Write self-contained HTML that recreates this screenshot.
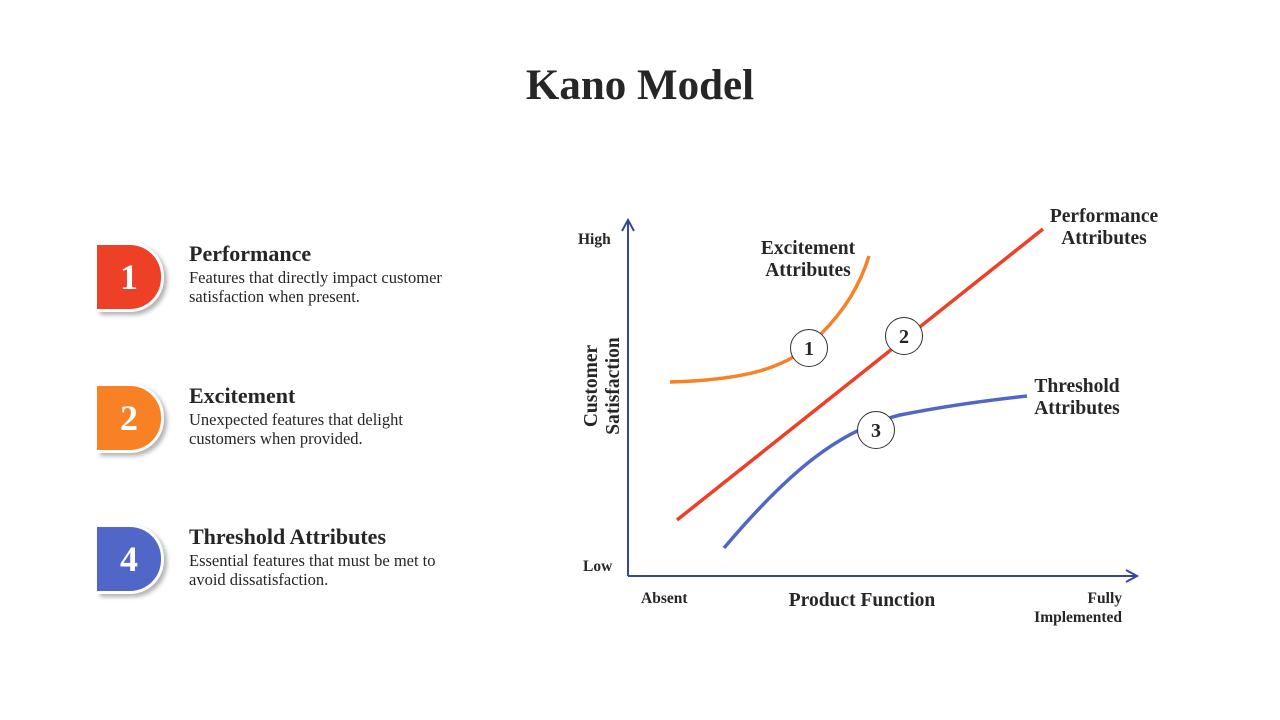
<!DOCTYPE html>
<html><head><meta charset="utf-8"><style>
body{margin:0;width:1280px;height:720px;background:#fff;position:relative;font-family:"Liberation Serif","DejaVu Serif",serif;color:#262626;overflow:hidden}
h1{position:absolute;top:61px;left:0;width:1280px;text-align:center;margin:0;font-size:43px;font-weight:bold}
.b{position:absolute;left:97px;width:64px;height:64px;border-radius:0 34px 34px 0;border:3px solid #fff;border-left:none;box-shadow:3px 3px 4px rgba(0,0,0,.3);color:#fff;font-size:36px;font-weight:bold;text-align:center;line-height:64px;box-sizing:content-box}
.t{position:absolute;left:189px;font-size:22px;font-weight:bold}
.d{position:absolute;left:189px;font-size:16.5px;line-height:19px;width:258px}
svg{position:absolute;left:0;top:0}
svg text{font-family:"Liberation Serif","DejaVu Serif",serif;fill:#262626;font-weight:bold}
</style></head><body>
<h1>Kano Model</h1>
<div class="b" style="top:242px;background:#ee4027">1</div>
<div class="t" style="top:241px">Performance</div>
<div class="d" style="top:268px">Features that directly impact customer satisfaction when present.</div>
<div class="b" style="top:383px;background:#f98125">2</div>
<div class="t" style="top:383px">Excitement</div>
<div class="d" style="top:410px">Unexpected features that delight customers when provided.</div>
<div class="b" style="top:524px;background:#5067c8">4</div>
<div class="t" style="top:524px">Threshold Attributes</div>
<div class="d" style="top:551px">Essential features that must be met to avoid dissatisfaction.</div>
<svg width="1280" height="720">
<g stroke="#34479a" stroke-width="2" fill="none">
<line x1="628" y1="576" x2="628" y2="221"/><polyline points="622,231 628,220 634,231"/>
<line x1="628" y1="576" x2="1136" y2="576"/><polyline points="1126,570 1137,576 1126,582"/>
</g>
<line x1="677" y1="520" x2="1043" y2="229" stroke="#ee4027" stroke-width="3.5"/>
<path d="M670,382 C740,380 790,370 820,335 C845,310 860,285 869,256" stroke="#f98125" stroke-width="3.5" fill="none"/>
<path d="M724,548 C790,470 840,430 900,415 C950,405 990,400 1027,396" stroke="#5067c8" stroke-width="3.5" fill="none"/>
<g fill="#fff" stroke="#333" stroke-width="1"><circle cx="809" cy="348" r="18.5"/><circle cx="904" cy="336" r="18.5"/><circle cx="876" cy="430" r="18.5"/></g>
<g font-size="20" text-anchor="middle"><text x="809" y="355">1</text><text x="904" y="343">2</text><text x="876" y="437">3</text></g>
<g font-size="15.5"><text x="578" y="244">High</text><text x="583" y="571">Low</text><text x="641" y="603">Absent</text>
<text x="1122" y="603" text-anchor="end">Fully</text><text x="1122" y="622" text-anchor="end">Implemented</text></g>
<g font-size="19.5" text-anchor="middle">
<text x="808" y="254">Excitement</text><text x="808" y="276">Attributes</text>
<text x="1104" y="222">Performance</text><text x="1104" y="244">Attributes</text>
<text x="1077" y="392">Threshold</text><text x="1077" y="414">Attributes</text>
<text x="862" y="606">Product Function</text>
<g transform="translate(597,386) rotate(-90)"><text x="0" y="0">Customer</text><text x="0" y="22">Satisfaction</text></g>
</g>
</svg>
</body></html>
